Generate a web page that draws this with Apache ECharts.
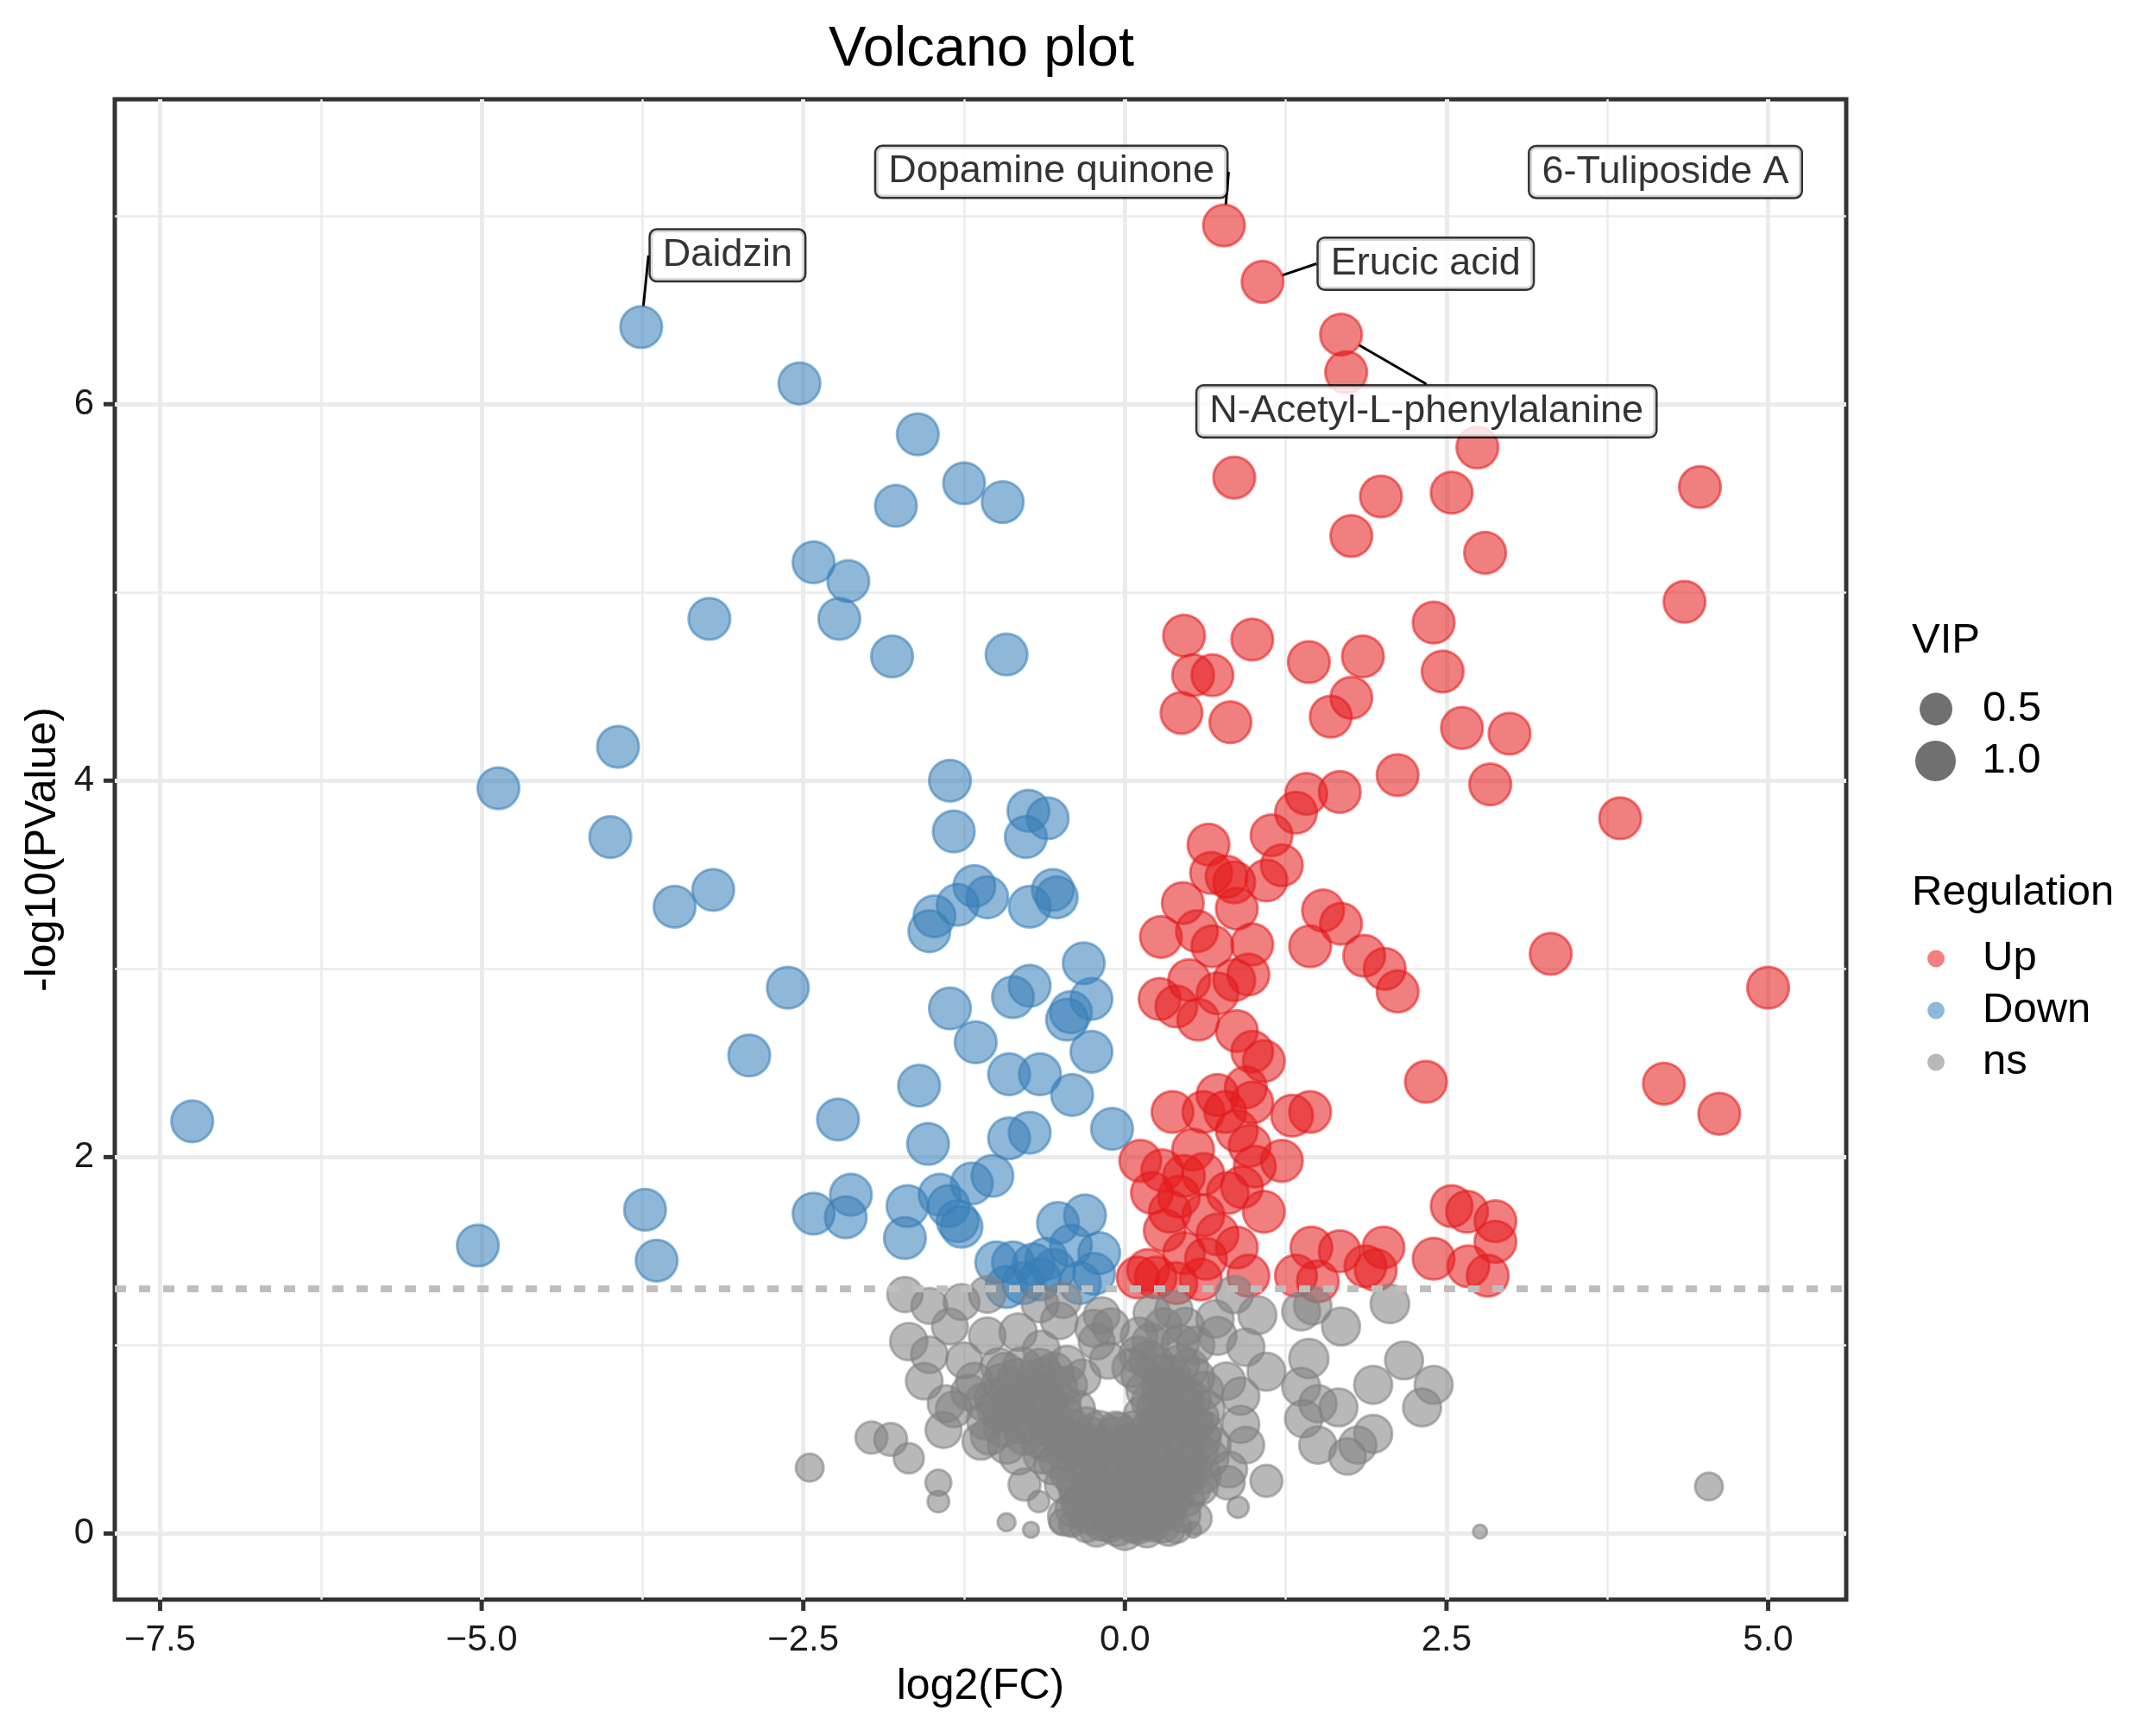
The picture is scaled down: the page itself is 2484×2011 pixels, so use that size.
<!DOCTYPE html>
<html lang="en">
<head>
<meta charset="UTF-8">
<title>Volcano plot</title>
<style>
    html, body { margin: 0; padding: 0; background: #ffffff; }
    #main { width: 2484px; height: 2011px; }
</style>
</head>
<body>
<div id="main"></div>
<script src="https://cdn.jsdelivr.net/npm/echarts@6/dist/echarts.min.js"></script>
<script>
// points are [log2(FC), -log10(PValue), VIP]
var upPoints = [
    [0.77,6.95,1.3],[1.07,6.65,1.3],[1.68,6.37,1.3],[1.72,6.17,1.3],[2.74,5.77,1.3],[0.85,5.61,1.3],[1.99,5.51,1.3],[2.54,5.53,1.3],
    [4.47,5.56,1.3],[1.76,5.30,1.3],[2.80,5.21,1.3],[4.35,4.95,1.3],[0.46,4.77,1.3],[0.99,4.75,1.3],[2.40,4.84,1.3],[1.43,4.63,1.3],
    [1.85,4.66,1.3],[0.53,4.56,1.3],[0.68,4.56,1.3],[2.47,4.58,1.3],[0.44,4.36,1.3],[0.82,4.31,1.3],[1.60,4.34,1.3],[1.76,4.44,1.3],
    [2.62,4.28,1.3],[2.99,4.25,1.3],[2.12,4.03,1.3],[1.41,3.93,1.3],[1.67,3.94,1.3],[2.84,3.98,1.3],[3.85,3.80,1.3],[1.33,3.83,1.3],
    [1.14,3.71,1.3],[0.65,3.66,1.3],[1.22,3.55,1.3],[0.67,3.51,1.3],[0.79,3.49,1.3],[0.85,3.46,1.3],[1.10,3.47,1.3],[0.45,3.35,1.3],
    [0.87,3.32,1.3],[1.54,3.31,1.3],[1.68,3.24,1.3],[0.28,3.17,1.3],[0.56,3.20,1.3],[0.68,3.12,1.3],[0.99,3.13,1.3],[1.44,3.12,1.3],
    [3.31,3.08,1.3],[1.86,3.07,1.3],[2.02,3.00,1.3],[2.12,2.88,1.3],[5.00,2.90,1.3],[0.50,2.94,1.3],[0.85,2.94,1.3],[0.96,2.97,1.3],
    [0.27,2.84,1.3],[0.40,2.80,1.3],[0.72,2.87,1.3],[0.57,2.73,1.3],[0.87,2.67,1.3],[0.99,2.56,1.3],[1.08,2.51,1.3],[2.34,2.40,1.3],
    [4.19,2.39,1.3],[4.62,2.23,1.3],[0.72,2.33,1.3],[0.94,2.37,1.3],[0.37,2.24,1.3],[0.61,2.24,1.3],[0.78,2.24,1.3],[0.99,2.29,1.3],
    [1.30,2.22,1.3],[1.44,2.24,1.3],[0.53,2.04,1.3],[0.87,2.14,1.3],[0.97,2.06,1.3],[1.22,1.98,1.3],[0.12,1.98,1.3],[0.29,1.93,1.3],
    [0.46,1.90,1.3],[0.61,1.91,1.3],[1.01,1.95,1.3],[0.21,1.81,1.3],[0.42,1.79,1.3],[0.80,1.81,1.3],[0.91,1.84,1.3],[0.35,1.71,1.3],
    [0.61,1.69,1.3],[1.08,1.71,1.3],[2.54,1.74,1.3],[2.66,1.71,1.3],[2.88,1.66,1.3],[0.31,1.61,1.3],[0.72,1.59,1.3],[2.88,1.55,1.3],
    [1.45,1.52,1.3],[1.67,1.50,1.3],[2.01,1.52,1.3],[2.40,1.46,1.3],[2.67,1.42,1.3],[0.18,1.40,1.3],[0.46,1.49,1.3],[0.63,1.46,1.3],
    [0.87,1.52,1.3],[1.87,1.42,1.3],[1.95,1.40,1.3],[2.82,1.37,1.3],[0.24,1.36,1.3],[0.59,1.35,1.3],[0.96,1.37,1.3],[1.33,1.37,1.3],
    [1.50,1.34,1.3],[0.40,1.33,1.3],[0.10,1.36,1.3]
];
var downPoints = [
    [-3.76,6.41,1.3],[-2.53,6.11,1.3],[-1.61,5.84,1.3],[-1.25,5.58,1.3],[-0.95,5.48,1.3],[-1.78,5.46,1.3],[-2.42,5.16,1.3],[-2.15,5.06,1.3],
    [-2.22,4.86,1.3],[-3.23,4.86,1.3],[-1.81,4.66,1.3],[-0.92,4.67,1.3],[-3.94,4.18,1.3],[-4.87,3.96,1.3],[-4.00,3.70,1.3],[-1.36,4.00,1.3],
    [-1.33,3.73,1.3],[-0.75,3.84,1.3],[-0.60,3.80,1.3],[-0.77,3.70,1.3],[-3.50,3.33,1.3],[-3.20,3.42,1.3],[-1.17,3.44,1.3],[-1.07,3.38,1.3],
    [-1.30,3.34,1.3],[-1.48,3.28,1.3],[-1.52,3.20,1.3],[-0.74,3.33,1.3],[-0.56,3.42,1.3],[-0.53,3.38,1.3],[-0.32,3.03,1.3],[-2.62,2.90,1.3],
    [-0.74,2.91,1.3],[-0.87,2.85,1.3],[-0.26,2.84,1.3],[-1.36,2.79,1.3],[-0.42,2.77,1.3],[-0.45,2.73,1.3],[-1.16,2.61,1.3],[-0.26,2.56,1.3],
    [-2.92,2.54,1.3],[-0.66,2.44,1.3],[-0.90,2.44,1.3],[-1.60,2.38,1.3],[-0.41,2.33,1.3],[-7.25,2.19,1.3],[-2.23,2.20,1.3],[-0.10,2.15,1.3],
    [-0.74,2.13,1.3],[-0.90,2.10,1.3],[-1.53,2.07,1.3],[-1.03,1.90,1.3],[-1.19,1.86,1.3],[-1.44,1.80,1.3],[-1.37,1.74,1.3],[-2.13,1.80,1.3],
    [-3.73,1.72,1.3],[-2.42,1.70,1.3],[-2.17,1.68,1.3],[-1.69,1.74,1.3],[-1.30,1.66,1.3],[-1.27,1.63,1.3],[-1.71,1.57,1.3],[-5.03,1.53,1.3],
    [-3.64,1.45,1.3],[-0.52,1.65,1.3],[-0.31,1.69,1.3],[-0.42,1.53,1.3],[-0.20,1.49,1.3],[-0.87,1.44,1.3],[-0.71,1.43,1.3],[-0.61,1.46,1.3],
    [-1.00,1.44,1.3],[-0.66,1.35,1.3],[-0.24,1.38,1.3],[-0.79,1.33,1.3],[-0.92,1.31,1.3],[-0.55,1.40,1.3],[-0.35,1.33,1.3]
];
var nsPoints = [
    [-1.71,1.27,0.8],[-1.52,1.21,0.85],[-1.27,1.23,0.85],[-1.07,1.27,0.9],[-1.68,1.02,0.95],[-1.36,1.10,0.85],[-1.07,1.05,0.9],
    [-0.83,1.07,0.95],[-0.65,0.98,0.9],[-0.51,1.13,0.9],[-0.24,1.09,0.95],[-0.18,1.16,0.85],[-0.13,0.92,0.9],[-1.52,0.95,0.9],
    [-1.25,0.92,0.85],[-1.56,0.81,0.9],[-0.98,0.89,0.85],[-0.62,0.84,0.9],[-0.33,0.83,0.85],[-1.39,0.69,0.9],[-1.21,0.75,0.85],
    [-1.41,0.55,0.85],[-1.12,0.49,0.9],[-1.97,0.51,0.6],[-1.82,0.50,0.65],[-1.68,0.40,0.5],[-1.45,0.27,0.3],[-0.83,0.41,0.9],
    [-0.96,0.64,0.9],[-0.78,0.26,0.6],[-0.07,0.55,0.9],[0.11,1.05,0.9],
    [-1.45,0.17,0.15],[-0.67,0.17,0.14],[-0.92,0.06,0.06],[-0.73,0.02,0.03],[-0.49,0.06,0.27],[-0.41,0.05,0.3],[-2.45,0.35,0.38],
    [-1.17,0.81,0.9],[-1.33,0.66,0.85],[-0.66,1.22,0.9],[-0.48,1.24,0.85],[-0.11,1.10,0.9],[-0.22,1.02,0.85],
    [0.85,1.27,0.95],[1.03,1.16,1.0],[1.37,1.18,1.0],[1.46,1.21,0.95],[1.68,1.10,1.0],[2.06,1.22,1.05],[0.38,1.19,0.95],
    [0.43,1.01,0.95],[0.20,1.02,0.9],[0.72,1.05,1.0],[0.94,0.99,0.95],[1.43,0.93,1.1],[1.10,0.86,1.0],[1.37,0.78,1.0],
    [0.90,0.73,0.95],[2.17,0.92,1.0],[1.93,0.79,1.0],[2.40,0.79,1.0],[2.31,0.67,1.0],[1.50,0.69,0.95],[1.66,0.67,1.0],
    [1.39,0.61,0.95],[0.90,0.58,0.95],[0.94,0.47,0.9],[1.50,0.47,0.95],[1.93,0.53,1.0],[1.81,0.47,0.95],[1.73,0.41,0.9],
    [1.10,0.28,0.6],[0.81,0.34,0.85],
    [0.88,0.14,0.14],[0.53,0.02,0.03],[0.80,0.27,0.7],[2.76,0.01,0.01],[4.54,0.25,0.38],[0.55,1.00,0.95],[0.30,1.10,0.9],
    [0.21,1.17,0.9],[0.47,1.10,0.95],[0.79,0.81,0.95],[0.70,1.14,0.95],
    [-1.08,0.60,1.0],[-0.95,0.56,0.95],[-0.82,0.62,1.0],[-0.69,0.57,1.0],[-0.55,0.60,0.95],[-0.42,0.56,1.0],
    [-1.02,0.72,1.0],[-0.89,0.76,0.95],[-0.76,0.70,1.0],[-0.62,0.74,1.0],[-0.49,0.70,0.95],[-0.38,0.66,1.0],
    [-0.93,0.86,1.0],[-0.80,0.89,0.95],[-0.55,0.86,1.0],[-0.44,0.79,0.95],
    [0.05,0.88,1.0],[0.18,0.92,0.95],[0.30,0.85,1.0],[0.43,0.90,1.0],[0.55,0.83,0.95],
    [0.16,0.76,1.0],[0.28,0.72,0.95],[0.40,0.77,1.0],[0.52,0.71,1.0],[0.63,0.66,0.95],
    [0.14,0.63,1.0],[0.25,0.58,0.95],[0.37,0.64,1.0],[0.49,0.59,1.0],[0.61,0.55,0.95],[-0.05,0.54,0.95],
    [-0.60,0.48,1.0],[-0.47,0.44,0.95],[-0.34,0.50,1.0],[-0.21,0.46,1.0],[-0.08,0.52,0.95],[0.05,0.45,1.0],
    [0.18,0.50,1.0],[0.31,0.44,0.95],[0.44,0.49,1.0],[0.57,0.43,1.0],[0.68,0.47,0.9],
    [-0.56,0.36,0.95],[-0.43,0.32,1.0],[-0.30,0.38,1.0],[-0.17,0.34,0.95],[-0.04,0.39,1.0],[0.09,0.33,1.0],
    [0.22,0.38,0.95],[0.35,0.32,1.0],[0.48,0.37,1.0],[0.60,0.31,0.95],
    [-0.48,0.26,0.9],[-0.36,0.22,1.0],[-0.23,0.27,1.0],[-0.11,0.21,0.95],[0.02,0.26,1.0],[0.14,0.20,1.0],
    [0.27,0.25,0.95],[0.39,0.21,1.0],[0.52,0.24,0.9],
    [-0.40,0.13,0.85],[-0.28,0.10,1.0],[-0.15,0.14,1.0],[-0.03,0.09,0.95],[0.09,0.13,1.0],[0.21,0.08,1.0],
    [0.33,0.12,0.95],[0.45,0.10,0.8],
    [-0.30,0.04,0.6],[-0.18,0.06,0.9],[-0.06,0.03,0.85],[0.06,0.05,0.9],[0.17,0.02,0.8],[0.29,0.05,0.9],[0.40,0.03,0.5],
    [-0.26,0.43,1.0],[0.12,0.41,1.0],[0.40,0.55,1.0],[-0.12,0.28,1.0],[0.26,0.30,1.0],[-0.33,0.17,1.0],[0.03,0.17,1.0],
    [0.32,0.18,1.0],[-0.10,0.08,1.0],[0.13,0.07,1.0],[-0.50,0.52,1.0],[0.52,0.33,1.0],[-0.78,0.52,1.0],[0.24,0.66,1.0],
    [-0.66,0.65,1.0],[0.46,0.68,1.0],[-0.48,0.64,0.95],[-0.90,0.66,1.0],[-0.70,0.82,1.0],[0.33,0.80,1.0],[-0.20,0.55,1.0],
    [0.08,0.55,1.0],
    [-0.45,0.09,1.0],[-0.35,0.16,0.95],[-0.25,0.12,1.0],[-0.15,0.19,1.0],[-0.05,0.14,0.95],[0.05,0.21,1.0],[0.15,0.15,1.0],
    [0.25,0.11,0.95],[0.35,0.17,1.0],[0.47,0.19,0.95],[0.55,0.08,0.6],
    [-0.38,0.27,1.0],[-0.28,0.31,0.95],[-0.18,0.24,1.0],[-0.07,0.30,1.0],[0.04,0.28,0.95],[0.15,0.26,1.0],[0.26,0.21,1.0],
    [0.36,0.27,0.95],[0.46,0.30,1.0],[0.58,0.25,0.9],
    [-0.22,0.02,0.7],[-0.12,0.05,0.8],[0.00,0.01,0.9],[0.10,0.04,0.85],[0.22,0.05,0.75],[0.34,0.02,0.6],
    [-0.64,0.42,1.0],[-0.52,0.39,0.95],[-0.40,0.46,1.0],[-0.28,0.52,1.0],[-0.14,0.41,0.95],[-0.02,0.47,1.0],[0.10,0.50,1.0],
    [0.22,0.45,0.95],[0.34,0.50,1.0],[0.46,0.43,1.0],[0.60,0.50,0.95],
    [-0.58,0.56,1.0],[-0.44,0.50,0.95],[-0.30,0.57,1.0],[0.20,0.56,1.0],[0.32,0.60,0.95],[0.54,0.58,1.0],[0.66,0.40,0.95],
    [-1.05,0.52,1.0],[-0.92,0.47,0.95],[-0.80,0.58,1.0],[-0.66,0.50,1.0],[-1.00,0.66,0.95],[-0.86,0.70,1.0],[-0.72,0.76,1.0],
    [-0.58,0.68,0.95],[-0.52,0.78,1.0],[-0.96,0.80,1.0],[-0.84,0.83,0.95],[-0.66,0.88,1.0],[-1.10,0.70,0.95],[-0.45,0.90,0.9],
    [0.12,0.84,1.0],[0.24,0.90,0.95],[0.36,0.84,1.0],[0.50,0.88,1.0],[0.20,0.70,1.0],[0.34,0.66,0.95],[0.46,0.74,1.0],
    [0.58,0.62,1.0],[0.28,0.78,1.0],[0.44,0.62,0.95],[0.10,0.95,0.9],[0.62,0.76,0.95]
];
// index in upPoints / downPoints -> label text
var upLabels = {0: 'Dopamine quinone', 1: 'Erucic acid', 2: 'N-Acetyl-L-phenylalanine', 8: '6-Tuliposide A'};
var downLabels = {0: 'Daidzin'};
var xTicks = [-7.5, -5, -2.5, 0, 2.5, 5];
var xMinorTicks = [-6.25, -3.75, -1.25, 1.25, 3.75];
var yTicks = [0, 2, 4, 6];
var yMinorTicks = [1, 3, 5, 7];
var vipLegend = ['0.5', '1.0'];
var pCutoff = 0.05;
var xRange = [-7.852, 5.607];
var yRange = [-0.351, 7.62];

var FONT = '"Liberation Sans", Arial, Helvetica, sans-serif';
var colors = {Up: 'rgba(228,26,28,0.7)', Down: 'rgba(55,126,184,0.7)', ns: 'rgba(128,128,128,0.7)'};
// label box offsets (px) from its point, as placed by ggrepel
var labelOffsets = {
    'Dopamine quinone': [-200, -62],
    'Erucic acid': [189, -21],
    'N-Acetyl-L-phenylalanine': [99, 89],
    'Daidzin': [100, -83],
    '6-Tuliposide A': [-40, -365]
};
var noSegment = ['6-Tuliposide A'];
var TICK_LEN = 13;

// ggplot-like area scale: VIP 0..1.43 -> diameter 16..53 (border takes 3)
function dotSize(vip) {
    var t = Math.max(0, Math.min(vip, 1.43)) / 1.43;
    return 16 + 37 * Math.sqrt(t);
}

function makeSeries(name, pts, labels) {
    var data = pts.map(function (p, i) {
        var item = {value: p};
        if (labels && labels[i]) {
            item.name = labels[i];
            item.label = {show: true};
            item.labelLine = {show: noSegment.indexOf(labels[i]) < 0};
        }
        return item;
    });
    return {
        name: name,
        type: 'scatter',
        data: data,
        symbolSize: function (v) { return dotSize(v[2]) - 3; },
        itemStyle: {color: colors[name], borderColor: colors[name], borderWidth: 3},
        label: {
            show: false,
            position: 'inside',
            formatter: '{b}',
            fontFamily: FONT,
            fontSize: 45,
            lineHeight: 48,
            color: '#000',
            backgroundColor: '#fff',
            borderColor: '#000',
            borderWidth: 2.5,
            borderRadius: 7,
            padding: [5, 14]
        },
        labelLine: {show: false, lineStyle: {color: '#000', width: 3}},
        labelLayout: function (params) {
            var o = labelOffsets[params.text];
            return o ? {dx: o[0], dy: o[1]} : {};
        },
        emphasis: {disabled: true},
        animation: false
    };
}

var myChart = echarts.init(document.getElementById('main'));

var series = [
    makeSeries('Up', upPoints, upLabels),
    makeSeries('Down', downPoints, downLabels),
    makeSeries('ns', nsPoints, null)
];
series[2].markLine = {
    silent: true,
    symbol: 'none',
    label: {show: false},
    lineStyle: {color: '#BEBEBE', width: 8, type: [13, 15], cap: 'butt'},
    data: [{yAxis: -Math.log10(pCutoff)}]
};
// dummy series for the VIP size legend
vipLegend.forEach(function (v) {
    series.push({name: v, type: 'scatter', data: [], itemStyle: {color: 'rgba(0,0,0,0.7)'}});
});

var legendText = {fontFamily: FONT, fontSize: 49, lineHeight: 49, color: '#000'};

var option = {
    animation: false,
    textStyle: {fontFamily: FONT},
    title: [
        {text: 'Volcano plot', left: 1137, top: 26, textAlign: 'center', padding: 0,
         textStyle: {fontFamily: FONT, fontSize: 65, lineHeight: 65, fontWeight: 'normal', color: '#000'}},
        {text: 'VIP', left: 2215, top: 718, padding: 0,
         textStyle: {fontFamily: FONT, fontSize: 49, lineHeight: 49, fontWeight: 'normal', color: '#000'}},
        {text: 'Regulation', left: 2215, top: 1010, padding: 0,
         textStyle: {fontFamily: FONT, fontSize: 49, lineHeight: 49, fontWeight: 'normal', color: '#000'}}
    ],
    // the legend box starts at the symbol's left edge, so left = dot centre - radius
    legend: [
        {data: ['0.5'], left: 2224, top: 797, padding: 0, itemWidth: 98, itemHeight: 38, selectedMode: false,
         icon: 'circle', itemStyle: {borderWidth: 0}, textStyle: legendText},
        {data: ['1.0'], left: 2219, top: 857, padding: 0, itemWidth: 98, itemHeight: 47, selectedMode: false,
         icon: 'circle', itemStyle: {borderWidth: 0}, textStyle: legendText},
        {data: ['Up', 'Down', 'ns'], orient: 'vertical', left: 2233, top: 1086, padding: 0, itemWidth: 98,
         itemHeight: 20, itemGap: 11, selectedMode: false, icon: 'circle', itemStyle: {borderWidth: 0},
         textStyle: legendText}
    ],
    grid: {
        left: 133, right: 345, top: 115, bottom: 158,
        show: true, borderColor: '#333333', borderWidth: 5, backgroundColor: '#fff'
    },
    xAxis: [
        {
            type: 'value', min: xRange[0], max: xRange[1], position: 'bottom',
            name: 'log2(FC)', nameLocation: 'middle', nameGap: 76,
            nameTextStyle: {fontFamily: FONT, fontSize: 50, color: '#000'},
            axisLine: {show: false, onZero: false},
            axisTick: {show: false, customValues: xTicks},
            axisLabel: {
                customValues: xTicks, fontSize: 42, color: '#1a1a1a', margin: 26, fontFamily: FONT,
                formatter: function (v) { return (v < 0 ? '\u2212' : '') + Math.abs(v).toFixed(1); }
            },
            splitLine: {show: true, lineStyle: {color: '#EBEBEB', width: 5}}
        },
        {
            type: 'value', min: xRange[0], max: xRange[1], position: 'bottom',
            axisLine: {show: false, onZero: false},
            axisTick: {show: false, customValues: xMinorTicks},
            axisLabel: {show: false, customValues: xMinorTicks},
            splitLine: {show: true, lineStyle: {color: '#EBEBEB', width: 2.5}}
        }
    ],
    yAxis: [
        {
            type: 'value', min: yRange[0], max: yRange[1], position: 'left',
            name: '-log10(PValue)', nameLocation: 'middle', nameGap: 46,
            nameTextStyle: {fontFamily: FONT, fontSize: 50, color: '#000'},
            axisLine: {show: false, onZero: false},
            axisTick: {show: false, customValues: yTicks},
            axisLabel: {customValues: yTicks, fontSize: 42, color: '#1a1a1a', margin: 24, fontFamily: FONT},
            splitLine: {show: true, lineStyle: {color: '#EBEBEB', width: 5}}
        },
        {
            type: 'value', min: yRange[0], max: yRange[1], position: 'left',
            axisLine: {show: false, onZero: false},
            axisTick: {show: false, customValues: yMinorTicks},
            axisLabel: {show: false, customValues: yMinorTicks},
            splitLine: {show: true, lineStyle: {color: '#EBEBEB', width: 2.5}}
        }
    ],
    series: series
};

myChart.setOption(option);

// outside tick marks on the panel edges, positioned through the chart's own scales
var tickMarks = [];
xTicks.forEach(function (v) {
    var p = myChart.convertToPixel({gridIndex: 0}, [v, yRange[0]]);
    tickMarks.push({type: 'line', silent: true, z: 100,
        shape: {x1: p[0], y1: p[1], x2: p[0], y2: p[1] + TICK_LEN},
        style: {stroke: '#333333', lineWidth: 5}});
});
yTicks.forEach(function (v) {
    var p = myChart.convertToPixel({gridIndex: 0}, [xRange[0], v]);
    tickMarks.push({type: 'line', silent: true, z: 100,
        shape: {x1: p[0] - TICK_LEN, y1: p[1], x2: p[0], y2: p[1]},
        style: {stroke: '#333333', lineWidth: 5}});
});
myChart.setOption({graphic: tickMarks});

window.addEventListener('resize', function () {
    myChart.resize();
});
</script>
</body>
</html>
